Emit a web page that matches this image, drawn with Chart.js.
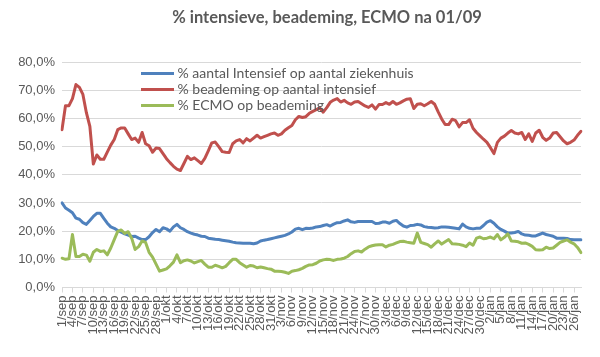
<!DOCTYPE html>
<html>
<head>
<meta charset="utf-8">
<script src="https://cdn.jsdelivr.net/npm/chart.js@4.4.1/dist/chart.umd.min.js"></script>
<style>
html,body{margin:0;padding:0;background:#fff;}
canvas{display:block;}
</style>
</head>
<body>
<canvas id="c" width="600" height="357"></canvas>
<script>
const chartTitle = "% intensieve, beademing, ECMO na 01/09";
const seriesNames = ["% aantal Intensief op aantal ziekenhuis", "% beademing op aantal intensief", "% ECMO op beademing"];

const categories = [
"1/sep","2/sep","3/sep","4/sep","5/sep","6/sep","7/sep","8/sep","9/sep","10/sep","11/sep","12/sep","13/sep","14/sep","15/sep","16/sep","17/sep","18/sep","19/sep","20/sep","21/sep","22/sep","23/sep","24/sep","25/sep","26/sep","27/sep","28/sep","29/sep","30/sep",
"1/okt","2/okt","3/okt","4/okt","5/okt","6/okt","7/okt","8/okt","9/okt","10/okt","11/okt","12/okt","13/okt","14/okt","15/okt","16/okt","17/okt","18/okt","19/okt","20/okt","21/okt","22/okt","23/okt","24/okt","25/okt","26/okt","27/okt","28/okt","29/okt","30/okt","31/okt",
"1/nov","2/nov","3/nov","4/nov","5/nov","6/nov","7/nov","8/nov","9/nov","10/nov","11/nov","12/nov","13/nov","14/nov","15/nov","16/nov","17/nov","18/nov","19/nov","20/nov","21/nov","22/nov","23/nov","24/nov","25/nov","26/nov","27/nov","28/nov","29/nov","30/nov",
"1/dec","2/dec","3/dec","4/dec","5/dec","6/dec","7/dec","8/dec","9/dec","10/dec","11/dec","12/dec","13/dec","14/dec","15/dec","16/dec","17/dec","18/dec","19/dec","20/dec","21/dec","22/dec","23/dec","24/dec","25/dec","26/dec","27/dec","28/dec","29/dec","30/dec","31/dec",
"1/jan","2/jan","3/jan","4/jan","5/jan","6/jan","7/jan","8/jan","9/jan","10/jan","11/jan","12/jan","13/jan","14/jan","15/jan","16/jan","17/jan","18/jan","19/jan","20/jan","21/jan","22/jan","23/jan","24/jan","25/jan","26/jan","27/jan","28/jan"
];

const pctIntensief = [
30,28.2,27.4,26.5,24.6,24.2,23,22.4,23.8,25.2,
26.3,26.3,24.5,22.8,21.5,21,20.2,19.6,19,18.6,
18.1,18.2,17.5,17,17,18,19.5,20.6,19.8,21.2,
20.8,20,21.5,22.4,21.2,20.6,19.8,19.3,18.9,18.6,
18.2,18.1,17.5,17.3,17.1,17,16.8,16.6,16.4,16.1,
15.9,15.8,15.7,15.7,15.7,15.5,15.8,16.5,16.8,17,
17.3,17.6,17.9,18.2,18.5,19,19.7,20.7,21,20.5,
21,20.9,21.1,21.5,21.6,22,22.3,21.8,22.5,23,
23.1,23.6,24,23.3,23.1,23.4,23.4,23.4,23.4,23.4,
22.7,22.8,23.2,23.2,22.8,23.5,23.8,22.7,21.8,21.4,
22,22.1,22.4,22.2,21.6,21.4,21.3,21.1,21.2,21.5,
21.5,21.4,21.2,21,20.8,22.5,21.5,21,20.8,21,
21,22,23.2,23.7,22.8,21.5,20.6,20,19.3,19.3,
19.5,19.9,19,18.6,18.5,18.3,18.3,18.8,19.3,18.8,
18.5,18.2,17.5,17.5,17.5,17.4,17,16.9,16.9,16.9
];

const pctBeademing = [
56,64.5,64.5,67,72,71,68.5,62,57.2,43.8,
47,45.5,45.5,48,50.5,52.5,56,56.6,56.6,54.5,
52.5,53,51.5,55,51,50.3,48,49.5,49.3,47.5,
45.7,44.3,43,42,41.5,44,46.5,45.4,46,45,
44,45.8,48.5,51.3,51.6,50,48.2,48,47.9,51,
52,52.5,51.3,52.8,52,53,54,53,53.5,54,
54.5,54.8,54,54.5,55.8,56.7,57.5,59.5,60.7,60.3,
60.6,61.8,62.5,63.1,63.7,62.2,63.8,65.7,66.5,67,
65.8,66.4,65.5,65,65.8,66,65.2,64.4,63.9,64.8,
63.3,64.9,64.9,65.6,65,66,65,65.5,66.2,66.8,
67,63.5,65,65.2,64.5,65.2,66,65,62.3,59.8,
57.8,57.8,59.7,59.2,57,58.5,58.5,59.5,56.5,55,
53.8,52.6,51.5,49.6,47.5,51.5,53,53.7,54.8,55.7,
54.8,54.5,55,52.5,54.5,51.8,54.8,55.8,53.3,52.2,
53,54.8,55,53.5,52,51,51.5,52.3,54,55.4
];

const pctEcmo = [
10.4,10,10.2,18.8,11,11,11.8,11.5,9.3,12.5,
13.5,12.8,13,11.6,14,17,19.9,20.4,19.2,19.8,
17.5,13.5,14.5,16.5,16,12.5,10.8,8.3,5.8,6.2,
6.6,7.7,9,11.6,8.8,9.5,9.8,9.4,8.7,9.2,
9.6,8.3,7.2,7.2,7.9,7.5,7,7.5,8.8,10,
10,8.8,8,7.2,7.8,7.6,7,7.3,7,6.7,
6.5,5.8,5.8,5.7,5.4,5,5.8,6,6.3,6.8,
7.5,8,8.1,8.6,9.4,9.8,10,9.9,9.6,10,
10.1,10.4,11,12,12.8,13,12.6,13.6,14.4,14.8,
15.1,15.2,15.2,14.4,15,15.3,15.8,16.3,16.4,16.1,
15.9,15.7,19.3,16,15.6,15.2,14.3,15.5,16.5,15.4,
16.2,17,15.5,15.4,15.3,15,14.5,15.8,15,17.5,
17.9,17.3,17.5,17.9,17.3,18.8,16.9,17.8,19,16.5,
16.4,16.2,15.7,15.8,15.3,14.6,13.4,13.3,13.4,14.3,
13.8,14,15,16,16.5,16.9,16.1,15.5,14.2,12.4
];

const yTicks = {min: 0, max: 80, step: 10};

const textColor = '#595959';
const gridColor = '#d9d9d9';

const overlay = {
  id: 'overlay',
  afterDraw(chart) {
    const ctx = chart.ctx;
    ctx.save();
    ctx.fillStyle = textColor;
    ctx.font = 'bold 16.5px Lato';
    ctx.textAlign = 'center';
    ctx.textBaseline = 'middle';
    ctx.fillText(chartTitle, 327, 18);
    chart.data.datasets.forEach((ds, i) => {
      const y = 73.5 + i * 16;
      ctx.strokeStyle = ds.borderColor;
      ctx.lineWidth = 3;
      ctx.beginPath();
      ctx.moveTo(141, y);
      ctx.lineTo(174, y);
      ctx.stroke();
      ctx.fillStyle = textColor;
      ctx.font = '14px Lato';
      ctx.textAlign = 'left';
      ctx.textBaseline = 'middle';
      ctx.fillText(ds.label, 177.5, y);
    });
    ctx.restore();
  }
};

const mk = (label, data, color, order) => ({
  label, data, borderColor: color, backgroundColor: color,
  borderWidth: 3, pointRadius: 0, tension: 0, order, fill: false,
  borderJoinStyle: 'round', borderCapStyle: 'round'
});

new Chart(document.getElementById('c').getContext('2d'), {
  type: 'line',
  data: {
    labels: categories,
    datasets: [
      mk(seriesNames[0], pctIntensief, '#4F81BD', 3),
      mk(seriesNames[1], pctBeademing, '#C0504D', 2),
      mk(seriesNames[2], pctEcmo, '#9BBB59', 1)
    ]
  },
  options: {
    responsive: false,
    animation: false,
    devicePixelRatio: 1,
    layout: {padding: {left: 0, right: 19, top: 62, bottom: 0}},
    plugins: {legend: {display: false}, title: {display: false}, tooltip: {enabled: false}},
    scales: {
      x: {
        type: 'category',
        offset: false,
        grid: {drawOnChartArea: false, drawTicks: true, tickLength: 5, color: gridColor},
        border: {display: true, color: gridColor},
        ticks: {autoSkip: false, maxRotation: 90, minRotation: 90, padding: 3, color: textColor,
                font: {family: 'Liberation Sans', size: 13}},
        afterBuildTicks: s => { s.ticks = s.ticks.filter(t => t.value % 3 === 0); },
        afterFit: s => { s.height = 69.5; }
      },
      y: {
        min: yTicks.min, max: yTicks.max,
        ticks: {stepSize: yTicks.step, padding: 7, color: textColor,
                font: {family: 'Liberation Sans', size: 13},
                callback: v => v.toFixed(1).replace('.', ',') + '%'},
        grid: {color: gridColor, drawTicks: false},
        border: {display: false},
        afterFit: s => { s.width = 62; }
      }
    }
  },
  plugins: [overlay]
});
</script>
</body>
</html>
